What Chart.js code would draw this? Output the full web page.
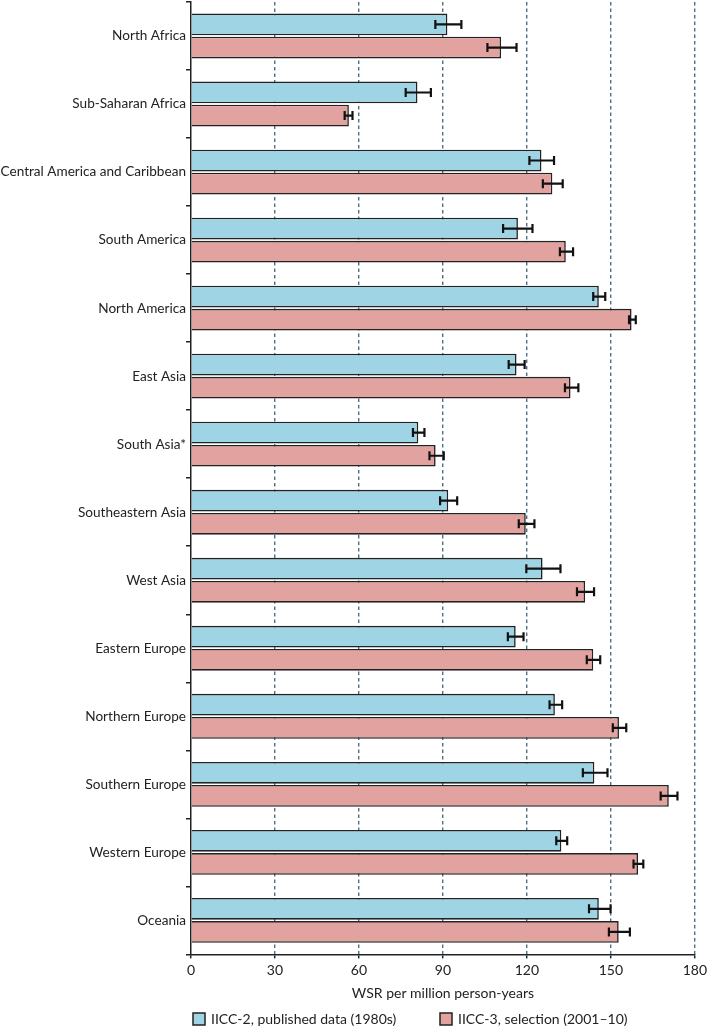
<!DOCTYPE html>
<html>
<head>
<meta charset="utf-8">
<script src="https://cdn.jsdelivr.net/npm/chart.js@4/dist/chart.umd.min.js"></script>
<style>
  html, body { margin: 0; padding: 0; background: #fff; }
  #wrap { width: 711px; height: 1028px; position: relative; }
</style>
</head>
<body>
<div id="wrap"><canvas id="chart"></canvas></div>
<script>
const regions = [
  "North Africa", "Sub-Saharan Africa", "Central America and Caribbean", "South America",
  "North America", "East Asia", "South Asia*", "Southeastern Asia", "West Asia",
  "Eastern Europe", "Northern Europe", "Southern Europe", "Western Europe", "Oceania"
];

// IICC-2, published data (1980s)
const iicc2 = [91.6, 80.9, 125.2, 116.8, 145.7, 116.3, 81.2, 91.9, 125.6, 116.0, 130.0, 144.1, 132.3, 145.7];
const iicc2Lo = [87.3, 76.7, 120.9, 111.5, 143.7, 113.5, 79.3, 89.0, 119.8, 113.2, 128.1, 140.0, 130.5, 142.2];
const iicc2Hi = [96.6, 85.7, 129.7, 122.0, 148.0, 119.2, 83.4, 95.1, 132.0, 118.8, 132.6, 148.8, 134.4, 149.9];

// IICC-3, selection (2001-10)
const iicc3 = [110.8, 56.4, 129.1, 133.9, 157.4, 135.6, 87.4, 119.6, 140.8, 143.7, 152.9, 170.7, 159.7, 152.8];
const iicc3Lo = [105.9, 54.9, 125.7, 131.8, 156.5, 133.6, 85.2, 117.1, 137.9, 141.4, 150.7, 167.8, 158.1, 149.3];
const iicc3Hi = [116.3, 57.7, 132.8, 136.5, 158.9, 138.4, 90.3, 122.7, 144.0, 146.2, 155.5, 173.8, 161.6, 156.8];

const xTicks = [0, 30, 60, 90, 120, 150, 180];

const FONT = "Lato, 'Open Sans', sans-serif";
const INK = "#222";

// error bars drawn through the x scale
const errorBars = {
  id: "errorBars",
  afterDatasetsDraw(chart) {
    const ctx = chart.ctx;
    const xs = chart.scales.x;
    chart.data.datasets.forEach((ds, i) => {
      const meta = chart.getDatasetMeta(i);
      meta.data.forEach((bar, j) => {
        const x1 = xs.getPixelForValue(ds.errLo[j]);
        const x2 = xs.getPixelForValue(ds.errHi[j]);
        const y = bar.y;
        ctx.save();
        ctx.strokeStyle = "#111";
        ctx.lineWidth = 2.2;
        ctx.beginPath();
        ctx.moveTo(x1, y); ctx.lineTo(x2, y);
        ctx.moveTo(x1, y - 4.5); ctx.lineTo(x1, y + 4.5);
        ctx.moveTo(x2, y - 4.5); ctx.lineTo(x2, y + 4.5);
        ctx.stroke();
        ctx.restore();
      });
    });
  }
};

// legend at the bottom, two entries with a wide gap
const bottomLegend = {
  id: "bottomLegend",
  afterDraw(chart) {
    const ctx = chart.ctx;
    const y = chart.height - 9;
    const starts = [193, 440];
    ctx.save();
    ctx.font = "14px " + FONT;
    ctx.textBaseline = "middle";
    chart.data.datasets.forEach((ds, i) => {
      const x = starts[i];
      ctx.fillStyle = ds.backgroundColor;
      ctx.fillRect(x, y - 6, 12, 12);
      ctx.strokeStyle = INK;
      ctx.lineWidth = 1.5;
      ctx.strokeRect(x, y - 6, 12, 12);
      ctx.fillStyle = INK;
      ctx.fillText(ds.label, x + 18, y);
    });
    ctx.restore();
  }
};

new Chart(document.getElementById("chart"), {
  type: "bar",
  data: {
    labels: regions,
    datasets: [
      {
        label: "IICC-2, published data (1980s)",
        data: iicc2, errLo: iicc2Lo, errHi: iicc2Hi,
        backgroundColor: "#9ed4e4", borderColor: INK, borderWidth: 1.6
      },
      {
        label: "IICC-3, selection (2001\u201310)",
        data: iicc3, errLo: iicc3Lo, errHi: iicc3Hi,
        backgroundColor: "#e2a3a0", borderColor: INK, borderWidth: 1.6
      }
    ]
  },
  options: {
    indexAxis: "y",
    responsive: true,
    maintainAspectRatio: false,
    animation: false,
    categoryPercentage: 0.68,
    barPercentage: 0.94,
    layout: { padding: { top: 2, right: 11, left: 0, bottom: 26 } },
    plugins: { legend: { display: false }, tooltip: { enabled: false } },
    scales: {
      x: {
        min: 0, max: 180,
        afterBuildTicks: s => { s.ticks = xTicks.map(v => ({ value: v })); },
        grid: {
          color: c => c.tick && c.tick.value === 0 ? "rgba(0,0,0,0)" : "#4f6f82",
          lineWidth: 1.4,
          tickLength: 4,
          tickColor: INK,
          tickWidth: 1.5
        },
        border: { display: true, color: INK, width: 1.5, dash: [3.5, 3] },
        ticks: { color: INK, font: { family: FONT, size: 14 }, padding: 4, maxRotation: 0 },
        title: {
          display: true, text: "WSR per million person-years", color: INK,
          font: { family: FONT, size: 14 }, padding: { top: 2, bottom: 0 }
        }
      },
      y: {
        afterFit: s => { s.width = 191; s.paddingTop = 0; s.paddingBottom = 0; },
        grid: { offset: true, drawOnChartArea: false, tickLength: 5, color: INK, lineWidth: 1.5 },
        border: { display: true, color: INK, width: 1.5 },
        ticks: { color: INK, font: { family: FONT, size: 13.6 }, padding: 0 }
      }
    }
  },
  plugins: [errorBars, bottomLegend]
});
</script>
</body>
</html>
